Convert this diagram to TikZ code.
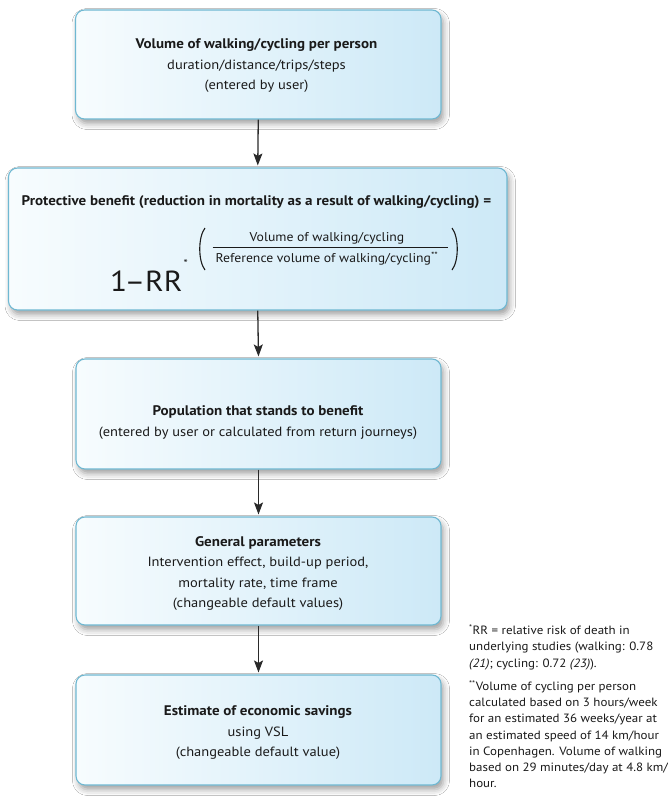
\documentclass[tikz,border=0pt]{standalone}
\usepackage{fontspec}
\setmainfont{PT Sans}[FakeStretch=1.08]
\usetikzlibrary{arrows.meta,shadows.blur}

\definecolor{boxedge}{HTML}{6FB8D2}
\definecolor{boxleft}{HTML}{F7FCFE}
\definecolor{boxright}{HTML}{CDE9F7}
\definecolor{arrowc}{HTML}{2A2A2A}
\definecolor{textc}{HTML}{1A1A1A}

\newcommand{\boxhead}[1]{{\fontsize{13.9}{20.5}\selectfont\bfseries #1}}

\begin{document}
\begin{tikzpicture}[x=1pt,y=-1pt,
  flowbox/.style={draw=boxedge, line width=1.1pt, rounded corners=9pt,
    left color=boxleft, right color=boxright, inner sep=0pt,
    blur shadow={shadow xshift=2.5pt, shadow yshift=-4.5pt, shadow blur radius=6pt, shadow opacity=38}},
  flowarrow/.style={draw=arrowc, line width=1.3pt, -{Stealth[length=12pt,width=9pt,inset=2.5pt]}, shorten >=2pt},
  btext/.style={align=center, text=textc, font=\fontsize{13.4}{20.5}\selectfont, inner sep=0pt},
  ftext/.style={text=textc, font=\fontsize{12.7}{15}\selectfont, inner sep=0pt, anchor=base},
  bigtext/.style={text=textc, font=\fontsize{29}{32}\selectfont, inner sep=0pt, anchor=base west},
  fnote/.style={align=left, text=textc, font=\fontsize{12}{16.2}\selectfont, inner sep=0pt, anchor=north west},
  paren/.style={draw=textc, line width=1.1pt},
]
\useasboundingbox[fill=white] (0,0) rectangle (667,798);

% boxes
\node[flowbox, minimum width=365.5pt, minimum height=109pt] (b1) at (258.25,64.5) {};
\node[flowbox, minimum width=498.5pt, minimum height=142pt] (b2) at (257.75,239) {};
\node[flowbox, minimum width=365pt, minimum height=110pt] (b3) at (258.5,414) {};
\node[flowbox, minimum width=365pt, minimum height=108pt] (b4) at (258.5,571) {};
\node[flowbox, minimum width=365pt, minimum height=110pt] (b5) at (258.5,730) {};

% arrows
\draw[flowarrow] (b1.south) -- (b2.north);
\draw[flowarrow] (b2.south) -- (b3.north);
\draw[flowarrow] (b3.south) -- (b4.north);
\draw[flowarrow] (b4.south) -- (b5.north);

% box texts
\node[btext] (t1) at (256.5,66) {\boxhead{Volume of walking/cycling per person}\\duration/distance/trips/steps\\(entered by user)};
\node[btext] (t2) at (256.5,202) {\boxhead{Protective benefit (reduction in mortality as a result of walking/cycling) =}};
\node[btext] (t3) at (258,422.5) {\boxhead{Population that stands to benefit}\\(entered by user or calculated from return journeys)};
\node[btext] (t4) at (258,573.5) {\boxhead{General parameters}\\Intervention effect, build-up period,\\mortality rate, time frame\\(changeable default values)};
\node[btext] (t5) at (258,733) {\boxhead{Estimate of economic savings}\\using VSL\\(changeable default value)};

% formula
\node[bigtext] (one) at (110,291) {1};
\node[bigtext] (dash) at (124.5,291) {–};
\node[bigtext] (rr) at (145,291) {RR};
\node[inner sep=0pt, anchor=north west, text=textc, font=\fontsize{11}{12}\selectfont] (star) at (183.5,259) {*};
\node[ftext] (num) at (327,241) {Volume of walking/cycling};
\node[ftext] (den) at (327,262.5) {Reference volume of walking/cycling\textsuperscript{**}};
\coordinate (fl) at (212.7,247.5);
\coordinate (fr) at (448,247.5);
\draw[draw=textc, line width=0.8pt] (fl) -- (fr);
\coordinate (lp1) at (205,228);
\coordinate (lp2) at (205,270);
\coordinate (rp1) at (452,228);
\coordinate (rp2) at (452,270);
\draw[paren] (lp1) .. controls (198,237) and (198,261) .. (lp2);
\draw[paren] (rp1) .. controls (459,237) and (459,261) .. (rp2);

% footnotes
\node[fnote] (fn) at (469,624.5) {\textsuperscript{*}RR = relative risk of death in\\
underlying studies (walking: 0.78\\
\textit{(21)}; cycling: 0.72 \textit{(23)}).\\[7.2pt]
\textsuperscript{**}Volume of cycling per person\\
calculated based on 3 hours/week\\
for an estimated 36 weeks/year at\\
an estimated speed of 14 km/hour\\
in Copenhagen. Volume of walking\\
based on 29 minutes/day at 4.8 km/\\
hour.};
\end{tikzpicture}
\end{document}
